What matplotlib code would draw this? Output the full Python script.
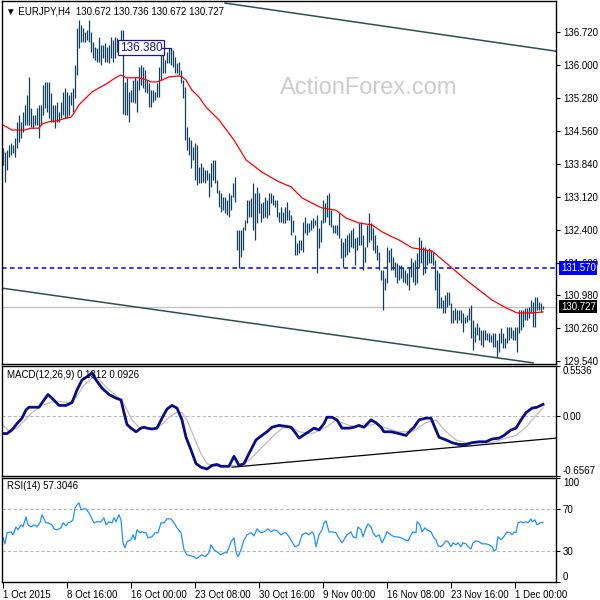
import matplotlib
matplotlib.use("Agg")
import matplotlib.pyplot as plt

plt.rcParams['font.family'] = ['Liberation Sans', 'DejaVu Sans']

# ---------------- data ----------------
high = [
134.18, 134.10, 134.14, 134.25, 134.30, 134.25, 134.41, 134.76, 134.91, 134.76,
134.98, 135.13, 135.35, 135.74, 135.06, 134.91, 134.91, 135.06, 135.13, 135.13,
135.56, 135.63, 135.63, 135.63, 135.39, 135.13, 135.13, 135.19, 134.98, 135.19,
135.41, 135.50, 135.41, 135.35, 135.41, 135.50, 136.00, 136.81, 136.98, 136.87,
136.81, 136.72, 136.76, 136.98, 136.72, 136.50, 136.39, 136.37, 136.61, 136.43,
136.43, 136.48, 136.39, 136.43, 136.61, 136.54, 136.61, 136.59, 136.54, 136.76,
136.76, 135.63, 135.72, 135.41, 135.45, 135.67, 135.74, 135.67, 135.96, 136.00,
135.96, 135.89, 135.67, 135.61, 135.45, 135.45, 135.41, 135.61, 135.96, 136.33,
136.26, 136.11, 136.28, 136.37, 136.37, 136.33, 136.17, 136.04, 136.06, 135.89,
135.67, 135.52, 134.65, 134.43, 134.36, 134.21, 134.30, 134.25, 133.77, 133.86,
133.77, 133.71, 133.71, 133.64, 133.86, 133.93, 133.93, 133.49, 133.27, 133.21,
133.12, 133.12, 133.05, 133.21, 133.16, 133.43, 133.56, 132.40, 132.40, 132.40,
132.46, 132.62, 133.05, 133.05, 133.10, 133.43, 133.21, 133.34, 133.21, 132.99,
133.01, 133.12, 133.05, 133.21, 133.21, 133.16, 133.05, 133.05, 132.79, 132.90,
132.79, 132.90, 133.01, 132.83, 132.73, 132.62, 132.29, 132.11, 132.18, 132.18,
132.57, 132.68, 132.55, 132.55, 132.62, 132.66, 132.62, 132.73, 132.44, 132.62,
133.05, 132.99, 133.16, 133.21, 132.83, 132.51, 132.51, 132.51, 132.77, 132.22,
132.14, 132.22, 132.29, 132.33, 132.40, 132.44, 132.22, 132.25, 132.55, 132.57,
132.29, 132.03, 132.51, 132.77, 132.55, 132.44, 132.29, 132.07, 131.92, 131.53,
131.53, 131.35, 132.03, 131.96, 132.00, 131.81, 131.70, 131.68, 131.63, 131.63,
131.59, 131.53, 131.46, 131.59, 131.78, 131.70, 131.74, 131.90, 132.25, 132.18,
132.03, 132.03, 131.96, 132.00, 131.96, 131.92, 131.74, 131.53, 131.46, 130.94,
130.87, 130.98, 131.05, 131.05, 130.81, 130.65, 130.70, 130.65, 130.65, 130.65,
130.59, 130.50, 130.55, 130.70, 130.76, 130.44, 130.28, 130.37, 130.28, 130.22,
130.22, 130.22, 130.15, 130.15, 130.11, 130.15, 130.15, 130.00, 130.15, 130.26,
130.15, 130.04, 130.28, 130.28, 130.28, 130.22, 130.28, 130.28, 130.65, 130.65,
130.65, 130.70, 130.70, 130.72, 130.87, 130.83, 130.94, 130.94, 130.83, 130.81,
130.74]

low = [
133.82, 133.45, 133.71, 133.99, 134.03, 134.08, 133.99, 134.19, 134.32, 134.41,
134.54, 134.69, 134.69, 134.69, 134.65, 134.62, 134.69, 134.69, 134.41, 134.69,
134.91, 135.06, 134.98, 134.84, 134.76, 134.76, 134.62, 134.76, 134.76, 134.84,
134.91, 134.84, 134.84, 134.91, 135.13, 134.98, 135.28, 135.78, 136.37, 136.50,
136.50, 136.50, 136.54, 136.50, 136.28, 136.15, 136.11, 136.06, 136.06, 136.00,
136.15, 136.06, 136.06, 136.04, 136.15, 136.06, 136.15, 136.28, 136.33, 136.28,
134.92, 134.91, 134.91, 134.76, 135.19, 135.19, 135.17, 134.98, 135.45, 135.56,
135.50, 135.41, 135.39, 135.08, 135.08, 135.19, 135.24, 135.30, 135.30, 135.67,
135.83, 135.83, 136.04, 136.04, 136.00, 135.96, 135.83, 135.83, 135.78, 135.61,
135.28, 134.36, 134.14, 134.03, 133.75, 133.93, 133.49, 133.38, 133.43, 133.43,
133.45, 133.43, 133.49, 133.12, 133.34, 133.49, 133.43, 133.21, 132.90, 132.79,
132.83, 132.77, 132.73, 132.68, 132.83, 133.12, 133.00, 131.96, 131.57, 131.81,
131.96, 132.40, 132.55, 132.68, 132.68, 132.40, 132.18, 132.55, 132.77, 132.57,
132.66, 132.68, 132.66, 132.73, 132.99, 132.94, 132.90, 132.68, 132.57, 132.57,
132.55, 132.55, 132.62, 132.62, 132.29, 132.36, 131.85, 131.85, 131.89, 131.96,
131.91, 132.33, 132.29, 132.36, 132.40, 132.44, 132.51, 131.46, 132.00, 132.14,
132.55, 132.57, 132.68, 132.51, 132.46, 132.33, 132.33, 132.29, 132.22, 131.78,
131.59, 131.81, 131.85, 131.91, 132.03, 132.00, 131.63, 131.96, 132.07, 132.07,
131.53, 131.70, 132.03, 132.14, 132.18, 131.96, 131.89, 131.74, 131.53, 131.31,
130.65, 131.09, 131.24, 131.70, 131.53, 131.53, 131.37, 131.24, 131.31, 131.35,
131.26, 131.24, 131.20, 131.09, 131.37, 131.26, 131.20, 131.24, 131.59, 131.68,
131.42, 131.46, 131.63, 131.68, 131.68, 131.63, 131.09, 130.70, 130.70, 130.70,
130.59, 130.59, 130.72, 130.76, 130.37, 130.37, 130.44, 130.37, 130.44, 130.37,
130.18, 130.37, 130.39, 130.44, 130.04, 129.78, 129.96, 130.11, 130.00, 129.89,
129.85, 130.00, 130.00, 129.96, 129.96, 129.85, 129.85, 129.63, 129.74, 129.93,
129.82, 129.82, 129.93, 130.00, 130.04, 130.00, 130.00, 129.74, 130.15, 130.22,
130.28, 130.44, 130.44, 130.48, 130.59, 130.28, 130.28, 130.65, 130.65, 130.61,
130.67]

# moving average (red) sampled along the chart
ma_x = [0, 4.5, 10.5, 14, 18, 19.5, 23, 27, 31.5, 34, 35.5, 38, 41.5, 44.5, 48, 51.5,
        54.5, 57, 59, 61.5, 64.5, 68, 72, 74, 77, 79.5, 83, 88, 89.5, 91.5, 94.5, 98,
        101.5, 108, 115.5, 121.5, 129.5, 138, 144, 149.5, 156.5, 159.5, 166.5, 171.5,
        178, 184.5, 189.5, 194.5, 198, 204.5, 214.5, 218, 224.5, 231.5, 238, 244.5,
        251.5, 257, 264.5, 270]
ma_y = [134.69, 134.58, 134.58, 134.62, 134.62, 134.71, 134.76, 134.78, 134.84, 134.86,
        134.95, 135.13, 135.28, 135.41, 135.50, 135.58, 135.67, 135.74, 135.78, 135.72,
        135.72, 135.72, 135.67, 135.63, 135.63, 135.67, 135.74, 135.76, 135.74, 135.67,
        135.45, 135.30, 135.08, 134.80, 134.36, 133.93, 133.66, 133.45, 133.34, 133.10,
        132.94, 132.88, 132.83, 132.66, 132.55, 132.51, 132.36, 132.25, 132.18, 132.01,
        131.94, 131.81, 131.57, 131.31, 131.09, 130.87, 130.70, 130.59, 130.59, 130.61]

upper_ch_x = [111, 276.5]
upper_ch_y = [137.35, 136.30]
lower_ch_x = [-0.5, 265]
lower_ch_y = [131.13, 129.50]

resistance = 131.570
last_close = 130.727
marked_high = 136.380

macd_x = [0, 2, 4.5, 7, 9.5, 11.5, 13, 18, 20.5, 22.5, 24.5, 28, 31.5, 34.5, 37, 39.5,
          43, 44.5, 46.5, 49.5, 53, 56.5, 59, 60.5, 62, 64, 66.5, 69, 70.5, 72, 74.5, 77,
          79.5, 82, 84.5, 87, 89.5, 91.5, 94, 96.5, 99, 102, 104.5, 107, 109, 113, 115.5,
          118, 120.5, 123, 126.5, 129.5, 132, 134.5, 138, 141.5, 144, 146.5, 148, 151.5,
          155.5, 158, 160.5, 162, 164.5, 167, 169.5, 173, 175.5, 178, 180.5, 184, 186.5,
          189, 190.5, 194, 198, 201.5, 204, 205.5, 208, 211.5, 214, 215.5, 218, 221.5,
          224.5, 228, 231.5, 234.5, 238, 241.5, 244.5, 248, 250.5, 254, 256.5, 259,
          261.5, 264.5, 267, 270]
macd_v = [-0.19, -0.19, -0.15, -0.08, -0.02, 0.07, 0.10, 0.10, 0.18, 0.24, 0.20, 0.12,
          0.12, 0.15, 0.29, 0.40, 0.45, 0.48, 0.40, 0.31, 0.24, 0.20, 0.18, 0.04, -0.09,
          -0.13, -0.17, -0.13, -0.12, -0.13, -0.14, -0.13, -0.02, 0.08, 0.12, 0.09, -0.04,
          -0.23, -0.37, -0.52, -0.56, -0.58, -0.54, -0.53, -0.55, -0.55, -0.44, -0.54,
          -0.52, -0.41, -0.26, -0.21, -0.17, -0.12, -0.10, -0.11, -0.12, -0.19, -0.24,
          -0.19, -0.13, -0.15, -0.08, -0.01, -0.01, -0.04, -0.13, -0.13, -0.12, -0.10,
          -0.12, -0.04, -0.07, -0.12, -0.17, -0.17, -0.19, -0.21, -0.15, -0.12, -0.04,
          -0.02, -0.02, -0.10, -0.23, -0.26, -0.29, -0.31, -0.31, -0.29, -0.28, -0.28,
          -0.25, -0.24, -0.21, -0.15, -0.13, -0.04, 0.04, 0.09, 0.10, 0.1312]

signal_x = [0, 3, 7, 11.5, 14.5, 19.5, 24.5, 29, 33, 36.5, 40.5, 44.5, 48, 51.5, 55.5,
            59.5, 62, 64.5, 68, 72, 76.5, 79.5, 83, 86.5, 89.5, 92, 95.5, 99, 102, 106.5,
            111.5, 114.5, 118, 122, 126.5, 129.5, 134.5, 139.5, 144.5, 148, 154.5, 161.5,
            166.5, 169.5, 173, 179.5, 186.5, 191.5, 198, 204.5, 211.5, 216.5, 221.5,
            226.5, 231.5, 238, 244.5, 251.5, 256.5, 261.5, 266.5, 270]
signal_v = [-0.10, -0.16, -0.13, -0.03, 0.04, 0.12, 0.16, 0.16, 0.15, 0.21, 0.34, 0.42,
            0.41, 0.32, 0.25, 0.17, 0.07, -0.04, -0.12, -0.13, -0.13, -0.09, -0.01, 0.04,
            0.04, -0.04, -0.23, -0.41, -0.52, -0.55, -0.55, -0.54, -0.54, -0.50, -0.41,
            -0.34, -0.23, -0.13, -0.12, -0.17, -0.19, -0.12, -0.04, -0.07, -0.10, -0.12,
            -0.08, -0.13, -0.17, -0.17, -0.07, -0.04, -0.17, -0.26, -0.29, -0.29, -0.29,
            -0.24, -0.21, -0.12, 0.01, 0.0926]

macd_trend_x = [114.5, 276.5]
macd_trend_v = [-0.56, -0.24]

rsi_x = [0, 1, 2, 4, 5, 6.5, 7.5, 9, 10, 11.5, 12.5, 14, 15.5, 17, 18.5, 19.5, 21.5,
         22.5, 24.5, 25.5, 27, 29, 30, 31.5, 32.5, 34, 35, 36, 37, 38, 39, 40.5, 41.5,
         43, 45.5, 47, 49, 50.5, 51.5, 53, 54.5, 55.5, 56.5, 58, 59, 60, 61, 62, 64, 65,
         66, 67, 68.5, 69.5, 71.5, 72.5, 74.5, 76, 77.5, 79, 80.5, 82, 84, 85.5, 87, 89,
         90.5, 92, 94, 95.5, 96.5, 98, 99.5, 101, 103, 104, 105.5, 107, 109, 110.5, 112,
         114, 115.5, 116.5, 117.5, 119, 120.5, 122, 124, 125.5, 127, 129, 130.5, 132.5,
         134, 135.5, 137, 139, 140.5, 141.5, 143, 144.5, 146, 148, 149.5, 151.5, 153,
         154.5, 155.5, 156.5, 158, 159.5, 160.5, 161.5, 163, 164.5, 166.5, 167.5, 169.5,
         170.5, 172, 174, 175, 176.5, 177.5, 179, 180, 181.5, 182.5, 184, 185, 186.5, 188,
         189.5, 191, 192, 194, 195.5, 197, 199, 201, 202.5, 204, 205, 206.5, 207, 208.5,
         209.5, 211, 212, 214, 215.5, 216.5, 217.5, 219, 220, 221.5, 222.5, 224, 225,
         226.5, 227.5, 229, 230, 231.5, 232.5, 234, 235, 236.5, 238, 239.5, 241.5, 243,
         244.5, 245.5, 246.5, 247.5, 249, 250, 251, 252, 253.5, 254.5, 255.5, 256.5,
         257.5, 259, 260, 261.5, 262.5, 264, 264.5, 266, 267, 268.5, 270]
rsi_v = [42.5, 36.7, 47.3, 48.2, 45.4, 53.0, 50.2, 55.0, 53.0, 62.6, 55.0, 53.0, 55.0,
         53.0, 56.9, 64.6, 56.9, 56.9, 55.0, 51.1, 50.2, 52.1, 56.9, 54.0, 56.9, 57.9,
         59.8, 71.3, 74.1, 76.1, 69.4, 70.3, 70.3, 66.5, 56.9, 57.9, 57.9, 61.7, 55.0,
         57.9, 56.9, 61.7, 57.9, 64.6, 59.8, 37.7, 32.9, 38.7, 40.6, 45.4, 40.6, 50.2,
         47.3, 48.2, 47.3, 42.5, 43.5, 47.3, 47.3, 56.9, 56.9, 60.7, 60.7, 56.9, 52.1,
         47.3, 31.0, 26.2, 25.2, 24.3, 22.4, 24.3, 26.2, 24.3, 28.1, 35.8, 31.0, 29.0,
         26.2, 28.1, 28.1, 38.7, 42.5, 29.0, 24.3, 31.0, 40.6, 45.4, 47.3, 44.4, 51.1,
         47.3, 48.2, 51.1, 48.2, 50.2, 49.2, 45.4, 47.3, 47.3, 43.5, 38.7, 33.9, 35.8,
         45.4, 47.3, 45.4, 48.2, 45.4, 33.9, 45.4, 50.2, 56.9, 58.8, 48.2, 48.2, 47.3,
         43.5, 37.7, 40.6, 45.4, 48.2, 43.5, 42.5, 53.0, 50.2, 43.5, 52.1, 55.9, 53.0,
         47.3, 43.5, 45.4, 37.7, 43.5, 48.2, 45.4, 43.5, 43.5, 42.5, 40.6, 39.6, 45.4,
         48.2, 47.3, 57.9, 55.0, 48.2, 52.1, 50.2, 48.2, 42.5, 40.6, 34.8, 33.9, 35.8,
         39.6, 38.7, 33.9, 37.7, 35.8, 37.7, 33.9, 37.7, 36.7, 33.9, 31.9, 37.7, 39.6,
         38.7, 36.7, 36.7, 35.8, 33.9, 30.0, 31.0, 43.5, 40.6, 42.5, 45.4, 48.2, 47.3,
         45.4, 48.2, 47.3, 56.9, 57.9, 56.9, 57.9, 56.9, 60.7, 57.9, 59.8, 55.0, 56.9,
         57.3046]

price_ticks = [136.720, 136.000, 135.280, 134.560, 133.840, 133.120, 132.400, 131.680,
               130.980, 130.260, 129.540]
date_pos = [0, 32, 64, 96, 128, 160, 192, 224, 256]
date_labels = ["1 Oct 2015", "8 Oct 16:00", "16 Oct 00:00", "23 Oct 08:00",
               "30 Oct 16:00", "9 Nov 00:00", "16 Nov 08:00", "23 Nov 16:00",
               "1 Dec 00:00"]

# ---------------- figure ----------------
W = H = 600
fig = plt.figure(figsize=(6, 6), dpi=100)
fig.patch.set_facecolor('white')


def px_axes(l, t, r, b):
    return fig.add_axes([l / W, 1 - b / H, (r - l) / W, (b - t) / H])


ax1 = px_axes(2, 1, 556, 364)
ax2 = px_axes(2, 366, 556, 476)
ax3 = px_axes(2, 478, 556, 582)

XL = (-0.5, 276.5)
FS = 7
BAR = '#12405c'

for ax in (ax1, ax2, ax3):
    ax.set_xlim(*XL)
    ax.yaxis.tick_right()
    ax.tick_params(axis='y', direction='out', length=3, width=0.8, pad=2,
                   labelsize=FS, colors='black')
    for s in ax.spines.values():
        s.set_linewidth(1.0)
        s.set_color('black')
    ax.set_facecolor('white')

ax1.tick_params(axis='x', bottom=False, labelbottom=False)
ax2.tick_params(axis='x', bottom=False, labelbottom=False)

# ---- main price panel ----
ax1.set_ylim(129.475, 137.395)
idx = list(range(len(high)))
ax1.vlines(idx, low, high, color=BAR, lw=0.9, zorder=3)
ax1.plot(ma_x, ma_y, color='red', lw=0.9, zorder=4)
ax1.plot(upper_ch_x, upper_ch_y, color='#2f4f4f', lw=1.1, zorder=2)
ax1.plot(lower_ch_x, lower_ch_y, color='#2f4f4f', lw=1.1, zorder=2)
ax1.axhline(resistance, color='blue', lw=1.1, ls=(0, (3, 2.2)), zorder=2)
ax1.axhline(last_close, color='#c0c0c0', lw=0.9, zorder=1)
ax1.set_yticks(price_ticks)
ax1.set_yticklabels([f"{v:.3f}" for v in price_ticks])

ax1.text(0.662, 0.76, 'ActionForex.com', transform=ax1.transAxes,
         fontsize=17, color='#cccccc', ha='center', va='center', zorder=0)

ax1.text(69, marked_high, f"{marked_high:.3f}", fontsize=8.5, color='#1a1a8c',
         ha='center', va='center', zorder=6,
         bbox=dict(boxstyle='square,pad=0.12', fc='white', ec='#1a1a8c', lw=0.9))
ax1.plot([79.5, 84, 84], [marked_high, marked_high, 136.33], color='#1a1a8c',
         lw=0.9, zorder=6)

for val, fc in ((resistance, 'blue'), (last_close, 'black')):
    ax1.annotate(f"{val:.3f}", xy=(1.0, val), xycoords=('axes fraction', 'data'),
                 xytext=(3.5, 0), textcoords='offset points', ha='left', va='center',
                 fontsize=FS, color='white', annotation_clip=False, zorder=10,
                 bbox=dict(boxstyle='square,pad=0.18', fc=fc, ec='none'))

# ---- MACD panel ----
ax2.set_ylim(-0.6567, 0.5536)
ax2.axhline(0, color='#b8b8b8', lw=0.8, ls=(0, (3, 2)))
ax2.plot(signal_x, signal_v, color='#bdbdbd', lw=0.9)
ax2.plot(macd_x, macd_v, color='#0b0b85', lw=2.0)
ax2.plot(macd_trend_x, macd_trend_v, color='black', lw=0.9)
ax2.set_yticks([0.5536, 0.0, -0.6567])
ax2.set_yticklabels(['0.5536', '0.00', '-0.6567'])
lbl = ax2.get_yticklabels()
lbl[0].set_va('top')
lbl[2].set_va('bottom')

# ---- RSI panel ----
ax3.set_ylim(0, 100)
ax3.axhline(70, color='#b8b8b8', lw=0.8, ls=(0, (3, 2)))
ax3.axhline(30, color='#b8b8b8', lw=0.8, ls=(0, (3, 2)))
ax3.plot(rsi_x, rsi_v, color='#1e90ff', lw=0.9)
ax3.set_yticks([100, 70, 30, 0])
ax3.set_yticklabels(['100', '70', '30', '0'])
lbl = ax3.get_yticklabels()
lbl[0].set_va('top')
lbl[3].set_va('bottom')
ax3.set_xticks(date_pos)
ax3.set_xticklabels(date_labels, ha='left')
ax3.tick_params(axis='x', direction='out', length=4, width=0.8, pad=2, labelsize=FS)

# ---- panel captions ----
fig.text(6 / W, 1 - 12 / H, '\u25bc EURJPY,H4  130.672 130.736 130.672 130.727',
         fontsize=FS, va='center', ha='left')
fig.text(7 / W, 1 - 375 / H, 'MACD(12,26,9) 0.1312 0.0926', fontsize=FS,
         va='center', ha='left')
fig.text(7 / W, 1 - 486 / H, 'RSI(14) 57.3046', fontsize=FS, va='center', ha='left')

fig.savefig('out.png', dpi=100)
